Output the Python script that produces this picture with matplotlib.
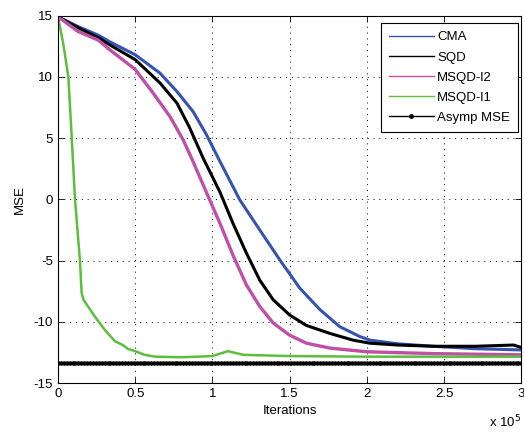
import numpy as np
import matplotlib
matplotlib.use("Agg")
import matplotlib.pyplot as plt
from matplotlib.lines import Line2D

plt.rcParams['font.family'] = ['Liberation Sans', 'DejaVu Sans']
plt.rcParams['axes.unicode_minus'] = False

# x in units of 1e5 iterations
cma_x = [0, 0.13, 0.26, 0.336, 0.5, 0.66, 0.77, 0.875, 0.96, 1.048, 1.177, 1.306, 1.436, 1.565, 1.695, 1.824, 1.953, 2.02, 2.2, 2.43, 2.7, 3.0]
cma_y = [14.9, 14.1, 13.4, 12.85, 11.8, 10.3, 8.8, 7.15, 5.3, 3.1, -0.05, -2.5, -4.95, -7.25, -9.0, -10.4, -11.2, -11.5, -11.8, -12.0, -12.2, -12.3]

sqd_x = [0, 0.13, 0.26, 0.336, 0.5, 0.66, 0.77, 0.85, 0.94, 1.048, 1.134, 1.22, 1.306, 1.393, 1.5, 1.608, 1.76, 1.91, 2.02, 2.2, 2.43, 2.7, 2.95, 3.0]
sqd_y = [14.9, 14.0, 13.2, 12.6, 11.4, 9.5, 7.85, 5.9, 3.35, 0.6, -2.0, -4.4, -6.6, -8.2, -9.45, -10.3, -10.95, -11.5, -11.75, -11.9, -12.0, -12.0, -11.9, -12.1]

msqd2_x = [0, 0.13, 0.26, 0.336, 0.5, 0.617, 0.725, 0.81, 0.865, 0.97, 1.048, 1.134, 1.22, 1.306, 1.393, 1.5, 1.608, 1.76, 2.0, 2.43, 3.0]
msqd2_y = [14.9, 13.7, 13.0, 12.2, 10.6, 8.65, 6.75, 4.85, 3.35, 0.3, -1.95, -4.6, -7.0, -8.75, -10.1, -11.1, -11.75, -12.15, -12.45, -12.6, -12.7]

msqd1_x = [0, 0.034, 0.067, 0.082, 0.089, 0.11, 0.142, 0.153, 0.165, 0.24, 0.305, 0.37, 0.42, 0.45, 0.50, 0.56, 0.63, 0.8, 1.0, 1.1, 1.2, 1.5, 2.0, 2.5, 3.0]
msqd1_y = [14.9, 12.7, 10.0, 6.6, 5.0, 0.0, -5.0, -7.65, -8.2, -9.6, -10.7, -11.6, -11.9, -12.2, -12.4, -12.7, -12.85, -12.9, -12.8, -12.4, -12.7, -12.8, -12.85, -12.85, -12.85]

asymp_mse = -13.4

labels = ["CMA", "SQD", "MSQD-l2", "MSQD-l1", "Asymp MSE"]
series = [
    (cma_x, cma_y, "#3354b0", 2.2),
    (sqd_x, sqd_y, "#000000", 2.2),
    (msqd2_x, msqd2_y, "#c04fa8", 2.4),
    (msqd1_x, msqd1_y, "#5cbf3c", 1.8),
]

FS = 9.5

fig = plt.figure(figsize=(5.24, 4.32), dpi=100)
ax = fig.add_axes([0.1107, 0.1134, 0.8843, 0.8506])

for x, y, c, lw in series:
    ax.plot(x, y, color=c, lw=lw, solid_joinstyle='round')

xa = np.linspace(0, 3, 160)
ax.plot(xa, np.full_like(xa, asymp_mse), color='black', lw=1.0, marker='.', ms=4.5)

handles = [Line2D([], [], color=c, lw=1.0) for _, _, c, _ in series]
handles.append(Line2D([], [], color='black', lw=1.0, marker='.', ms=5))
leg = ax.legend(handles, labels, loc='upper right', bbox_to_anchor=(0.993, 0.979),
                fontsize=FS, fancybox=False, framealpha=1, edgecolor='black',
                borderaxespad=0, handlelength=3.4, handletextpad=0.26,
                labelspacing=0.6, borderpad=0.6)
leg.get_frame().set_linewidth(0.8)

ax.set_xlim(0, 3)
ax.set_ylim(-15, 15)
ax.set_xticks([0, 0.5, 1, 1.5, 2, 2.5, 3])
ax.set_xticklabels(["0", "0.5", "1", "1.5", "2", "2.5", "3"])
ax.set_yticks([-15, -10, -5, 0, 5, 10, 15])
ax.grid(True, linestyle=(0, (1, 5)), color='black', lw=0.7)
ax.tick_params(direction='in', top=True, right=True, labelsize=FS, length=4, width=0.6)
for s in ax.spines.values():
    s.set_linewidth(0.8)
ax.set_xlabel("Iterations", fontsize=FS, labelpad=4)
ax.set_ylabel("MSE", fontsize=FS, labelpad=6)
fig.text(0.964, 0.012, r"x 10$^5$", fontsize=FS, ha='center')

fig.savefig("out.png", dpi=100)
